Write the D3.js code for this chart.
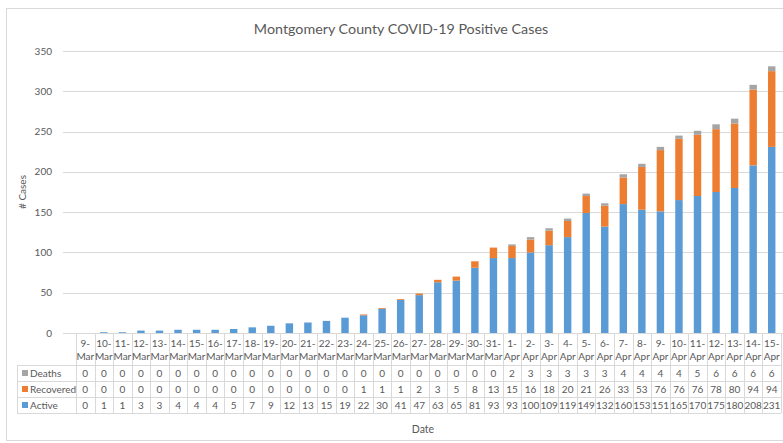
<!DOCTYPE html>
<html>
<head>
<meta charset="utf-8">
<script src="https://cdn.jsdelivr.net/npm/d3@7"></script>
<style>
  body { margin: 0; background: #fff; }
  text { font-family: Lato, "Open Sans", sans-serif; fill: #595959; }
</style>
</head>
<body>
<div id="chart"></div>
<script>
// dates on the x axis
const dates = ["9-Mar","10-Mar","11-Mar","12-Mar","13-Mar","14-Mar","15-Mar","16-Mar","17-Mar","18-Mar",
  "19-Mar","20-Mar","21-Mar","22-Mar","23-Mar","24-Mar","25-Mar","26-Mar","27-Mar","28-Mar","29-Mar",
  "30-Mar","31-Mar","1-Apr","2-Apr","3-Apr","4-Apr","5-Apr","6-Apr","7-Apr","8-Apr","9-Apr","10-Apr",
  "11-Apr","12-Apr","13-Apr","14-Apr","15-Apr"];

const active = [0,1,1,3,3,4,4,4,5,7,9,12,13,15,19,22,30,41,47,63,65,81,93,93,100,109,119,149,132,160,
  153,151,165,170,175,180,208,231];
const recovered = [0,0,0,0,0,0,0,0,0,0,0,0,0,0,0,1,1,1,2,3,5,8,13,15,16,18,20,21,26,33,53,76,76,76,78,
  80,94,94];
const deaths = [0,0,0,0,0,0,0,0,0,0,0,0,0,0,0,0,0,0,0,0,0,0,0,2,3,3,3,3,3,4,4,4,4,5,6,6,6,6];

const yTicks = [0,50,100,150,200,250,300,350];

const seriesNames = ["Active","Recovered","Deaths"];
const colors = {Active: "#5B9BD5", Recovered: "#ED7D31", Deaths: "#A5A5A5"};

const W = 783, H = 443;
const svg = d3.select("#chart").append("svg")
    .attr("width", W)
    .attr("height", H);

// chart frame
svg.append("rect")
    .attr("x", 6.5).attr("y", 8.5)
    .attr("width", W + 10).attr("height", H - 11)
    .attr("fill", "#fff")
    .attr("stroke", "#d9d9d9");

const rows = dates.map((d, i) => ({date: d, Active: active[i], Recovered: recovered[i], Deaths: deaths[i]}));

const x = d3.scaleBand()
    .domain(dates)
    .range([76, 781])
    .padding(0);

const y = d3.scaleLinear()
    .domain([0, 350])
    .range([333, 51]);

// title
svg.append("text")
    .attr("x", 401).attr("y", 34)
    .attr("text-anchor", "middle")
    .style("font-size", "14.3px")
    .text("Montgomery County COVID-19 Positive Cases");

// gridlines
svg.append("g").selectAll("line")
    .data(yTicks)
    .enter().append("line")
    .attr("x1", 63).attr("x2", W)
    .attr("y1", d => Math.round(y(d)) + 0.5)
    .attr("y2", d => Math.round(y(d)) + 0.5)
    .attr("stroke", "#d9d9d9");

// y tick labels
svg.append("g").selectAll("text")
    .data(yTicks)
    .enter().append("text")
    .attr("x", 52)
    .attr("y", d => y(d) + 3.5)
    .attr("text-anchor", "end")
    .style("font-size", "10px")
    .text(d => d);

// y axis title
svg.append("text")
    .attr("transform", "translate(26,192) rotate(-90)")
    .attr("text-anchor", "middle")
    .style("font-size", "10px")
    .text("# Cases");

// stacked bars
const stacked = d3.stack().keys(seriesNames)(rows);
const bw = x.bandwidth();

svg.append("g").selectAll("g")
    .data(stacked)
    .enter().append("g")
    .attr("fill", d => colors[d.key])
    .selectAll("rect")
    .data(d => d)
    .enter().append("rect")
    .attr("x", d => x(d.data.date) + bw * 0.3)
    .attr("width", bw * 0.4)
    .attr("y", d => y(d[1]))
    .attr("height", d => y(d[0]) - y(d[1]));

// data table
const tableTop = 333, headerH = 32, rowH = 16;
const tableRows = [
  {name: "Deaths", values: deaths},
  {name: "Recovered", values: recovered},
  {name: "Active", values: active}
];
const tbl = svg.append("g");
const tableBottom = tableTop + headerH + rowH * tableRows.length;

// horizontal lines
[tableTop + headerH, tableTop + headerH + rowH, tableTop + headerH + rowH * 2, tableBottom].forEach(yy => {
  tbl.append("line")
      .attr("x1", 17).attr("x2", 781)
      .attr("y1", yy + 0.5).attr("y2", yy + 0.5)
      .attr("stroke", "#d9d9d9");
});
// vertical lines
tbl.selectAll(".vl")
    .data(dates.concat(["end"]))
    .enter().append("line")
    .attr("class", "vl")
    .attr("x1", d => Math.round(d === "end" ? 781 : x(d)) + 0.5)
    .attr("x2", d => Math.round(d === "end" ? 781 : x(d)) + 0.5)
    .attr("y1", tableTop).attr("y2", tableBottom)
    .attr("stroke", "#d9d9d9");
tbl.append("line")
    .attr("x1", 17.5).attr("x2", 17.5)
    .attr("y1", tableTop + headerH).attr("y2", tableBottom)
    .attr("stroke", "#d9d9d9");

// header labels (two lines)
const hdr = tbl.selectAll(".hdr")
    .data(dates)
    .enter().append("text")
    .attr("class", "hdr")
    .attr("text-anchor", "middle")
    .style("font-size", "10px");
hdr.append("tspan")
    .attr("x", d => x(d) + bw / 2)
    .attr("y", tableTop + 14)
    .text(d => d.split("-")[0] + "-");
hdr.append("tspan")
    .attr("x", d => x(d) + bw / 2)
    .attr("y", tableTop + 27)
    .text(d => d.split("-")[1]);

// row labels and values
tableRows.forEach((r, i) => {
  const cy = tableTop + headerH + rowH * i + rowH / 2;
  tbl.append("rect")
      .attr("x", 22).attr("y", cy - 3)
      .attr("width", 6).attr("height", 6)
      .attr("fill", colors[r.name]);
  tbl.append("text")
      .attr("x", 30).attr("y", cy + 4)
      .style("font-size", "10px")
      .text(r.name);
  tbl.selectAll(".v" + i)
      .data(r.values)
      .enter().append("text")
      .attr("x", (d, j) => x(dates[j]) + bw / 2)
      .attr("y", cy + 3.5)
      .attr("text-anchor", "middle")
      .style("font-size", "10px")
      .text(d => d);
});

// x axis title
svg.append("text")
    .attr("x", 423).attr("y", 433)
    .attr("text-anchor", "middle")
    .style("font-size", "10.5px")
    .text("Date");
</script>
</body>
</html>
